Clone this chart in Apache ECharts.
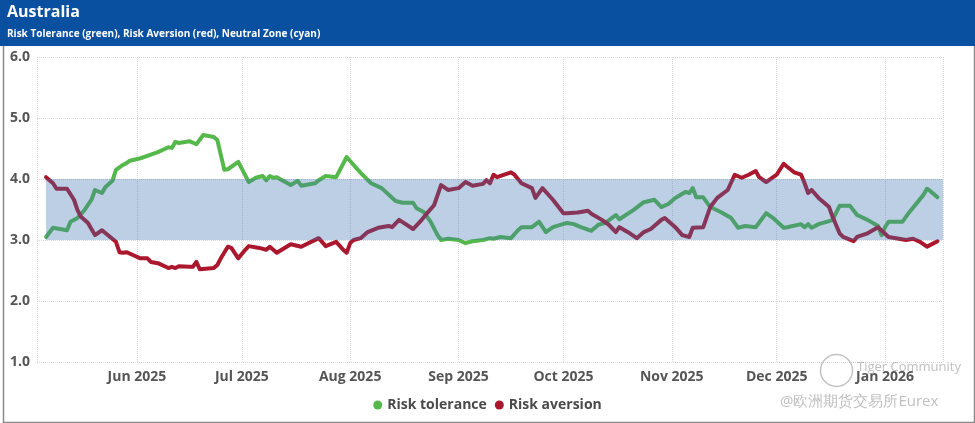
<!DOCTYPE html>
<html><head><meta charset="utf-8">
<script src="https://cdn.jsdelivr.net/npm/echarts@6/dist/echarts.min.js"></script>
<style>html,body{margin:0;padding:0;background:#fff}#c{width:975px;height:423px}</style>
</head><body><div id="c"></div>
<script>
// ---- data ----
const titleText = 'Australia';
const subtitleText = 'Risk Tolerance (green), Risk Aversion (red), Neutral Zone (cyan)';
const seriesNames = ['Risk tolerance', 'Risk aversion'];
const neutralZone = [3.0, 4.0];
const yTicks = [1, 2, 3, 4, 5, 6];
const axisStart = '2025-05-03T10:00:00';
const axisEnd = '2026-01-17T14:00:00';

const toleranceDates = ['2025-05-06','2025-05-08','2025-05-12','2025-05-13','2025-05-15','2025-05-17','2025-05-19','2025-05-20','2025-05-22','2025-05-23','2025-05-25','2025-05-26','2025-05-28','2025-05-29','2025-05-30','2025-06-02','2025-06-04','2025-06-07','2025-06-10','2025-06-11','2025-06-12','2025-06-13','2025-06-16','2025-06-18','2025-06-20','2025-06-23','2025-06-24','2025-06-26','2025-06-27','2025-06-30','2025-07-03','2025-07-05','2025-07-07','2025-07-08','2025-07-09','2025-07-10','2025-07-11','2025-07-15','2025-07-17','2025-07-18','2025-07-22','2025-07-23','2025-07-25','2025-07-28','2025-07-31','2025-08-02','2025-08-04','2025-08-07','2025-08-10','2025-08-14','2025-08-16','2025-08-19','2025-08-20','2025-08-22','2025-08-24','2025-08-26','2025-08-27','2025-08-29','2025-09-01','2025-09-03','2025-09-05','2025-09-08','2025-09-10','2025-09-11','2025-09-13','2025-09-16','2025-09-18','2025-09-19','2025-09-22','2025-09-24','2025-09-26','2025-09-28','2025-10-02','2025-10-04','2025-10-06','2025-10-09','2025-10-11','2025-10-13','2025-10-16','2025-10-17','2025-10-21','2025-10-24','2025-10-27','2025-10-29','2025-10-31','2025-11-02','2025-11-05','2025-11-06','2025-11-07','2025-11-08','2025-11-10','2025-11-12','2025-11-15','2025-11-18','2025-11-20','2025-11-22','2025-11-25','2025-11-28','2025-11-30','2025-12-03','2025-12-04','2025-12-08','2025-12-09','2025-12-10','2025-12-11','2025-12-13','2025-12-16','2025-12-17','2025-12-19','2025-12-22','2025-12-24','2025-12-27','2025-12-30','2025-12-31','2026-01-01','2026-01-02','2026-01-06','2026-01-08','2026-01-12','2026-01-13','2026-01-14','2026-01-16'];
const toleranceValues = [3.05,3.20,3.16,3.30,3.36,3.49,3.66,3.82,3.77,3.87,3.97,4.15,4.23,4.26,4.30,4.34,4.38,4.44,4.52,4.51,4.61,4.59,4.62,4.57,4.72,4.69,4.64,4.15,4.16,4.28,3.95,4.02,4.05,3.98,4.05,4.02,4.03,3.90,3.97,3.89,3.93,3.98,4.05,4.03,4.36,4.23,4.10,3.93,3.85,3.64,3.61,3.61,3.52,3.46,3.30,3.08,3.00,3.02,3.00,2.95,2.98,3.00,3.03,3.02,3.05,3.03,3.16,3.21,3.21,3.30,3.13,3.21,3.28,3.26,3.21,3.15,3.25,3.28,3.41,3.34,3.49,3.62,3.66,3.54,3.59,3.69,3.79,3.77,3.85,3.70,3.70,3.54,3.46,3.36,3.20,3.23,3.21,3.44,3.36,3.20,3.21,3.26,3.21,3.26,3.20,3.26,3.31,3.33,3.56,3.56,3.41,3.33,3.23,3.08,3.21,3.30,3.30,3.46,3.74,3.84,3.80,3.70];

const aversionDates = ['2025-05-06','2025-05-08','2025-05-09','2025-05-12','2025-05-14','2025-05-15','2025-05-16','2025-05-18','2025-05-20','2025-05-22','2025-05-26','2025-05-27','2025-05-28','2025-05-29','2025-05-31','2025-06-02','2025-06-04','2025-06-05','2025-06-07','2025-06-10','2025-06-11','2025-06-12','2025-06-13','2025-06-16','2025-06-17','2025-06-18','2025-06-19','2025-06-23','2025-06-24','2025-06-25','2025-06-27','2025-06-28','2025-06-30','2025-07-02','2025-07-03','2025-07-06','2025-07-08','2025-07-09','2025-07-11','2025-07-15','2025-07-18','2025-07-23','2025-07-25','2025-07-28','2025-07-30','2025-07-31','2025-08-01','2025-08-02','2025-08-04','2025-08-06','2025-08-09','2025-08-12','2025-08-13','2025-08-15','2025-08-19','2025-08-21','2025-08-23','2025-08-25','2025-08-27','2025-08-29','2025-09-01','2025-09-03','2025-09-05','2025-09-08','2025-09-09','2025-09-10','2025-09-11','2025-09-12','2025-09-16','2025-09-17','2025-09-19','2025-09-22','2025-09-23','2025-09-25','2025-09-28','2025-10-01','2025-10-02','2025-10-05','2025-10-06','2025-10-08','2025-10-09','2025-10-12','2025-10-14','2025-10-16','2025-10-17','2025-10-20','2025-10-22','2025-10-24','2025-10-26','2025-10-29','2025-10-30','2025-11-02','2025-11-04','2025-11-06','2025-11-07','2025-11-10','2025-11-12','2025-11-14','2025-11-17','2025-11-19','2025-11-21','2025-11-23','2025-11-25','2025-11-26','2025-11-28','2025-12-01','2025-12-03','2025-12-04','2025-12-06','2025-12-08','2025-12-09','2025-12-10','2025-12-11','2025-12-13','2025-12-16','2025-12-17','2025-12-19','2025-12-20','2025-12-23','2025-12-24','2025-12-27','2025-12-30','2026-01-02','2026-01-05','2026-01-07','2026-01-09','2026-01-11','2026-01-13','2026-01-14','2026-01-16'];
const aversionValues = [4.03,3.93,3.84,3.84,3.66,3.49,3.38,3.28,3.08,3.16,2.97,2.80,2.79,2.80,2.75,2.70,2.70,2.64,2.62,2.54,2.56,2.54,2.57,2.56,2.56,2.64,2.52,2.54,2.59,2.70,2.89,2.87,2.70,2.84,2.90,2.87,2.84,2.89,2.79,2.93,2.89,3.03,2.90,2.97,2.84,2.79,2.95,3.00,3.03,3.13,3.20,3.23,3.21,3.33,3.18,3.30,3.44,3.57,3.90,3.82,3.85,3.95,3.89,3.92,3.98,3.93,4.07,4.03,4.11,4.07,3.93,3.85,3.69,3.85,3.66,3.44,3.44,3.45,3.46,3.48,3.43,3.33,3.25,3.13,3.21,3.11,3.03,3.13,3.18,3.33,3.36,3.21,3.08,3.05,3.20,3.21,3.54,3.69,3.82,4.07,4.02,4.07,4.13,4.03,3.95,4.07,4.25,4.20,4.11,4.07,3.93,3.77,3.82,3.69,3.54,3.38,3.11,3.05,2.98,3.05,3.11,3.21,3.05,3.02,3.00,3.02,2.97,2.89,2.92,2.98];

const watermarkTop = 'Tiger Community';
const watermarkBottom = '@欧洲期货交易所Eurex';

// ---- chart ----
const FONT = '"Open Sans", "Noto Sans", sans-serif';
const pair = (d, v) => d.map((x, i) => [x, v[i]]);
const chart = echarts.init(document.getElementById('c'), null, {renderer: 'canvas'});

chart.setOption({
  animation: false,
  backgroundColor: '#ffffff',
  textStyle: {fontFamily: FONT},
  grid: {left: 37, right: 32, top: 57, bottom: 61, containLabel: false},
  legend: {
    data: seriesNames,
    bottom: 6,
    left: 'center',
    icon: 'circle',
    itemWidth: 9, itemHeight: 9, itemGap: 8,
    textStyle: {fontFamily: FONT, fontSize: 14, fontWeight: 'bold', color: '#4a4a4a'}
  },
  xAxis: {
    type: 'time',
    min: axisStart, max: axisEnd,
    minInterval: 28 * 86400000, maxInterval: 31 * 86400000,
    axisLine: {show: false}, axisTick: {show: false},
    axisLabel: {formatter: '{MMM} {yyyy}', fontFamily: FONT, fontSize: 14, fontWeight: 'bold', color: '#555', margin: 8},
    splitLine: {show: true, lineStyle: {type: 'dotted', color: '#d8d8d8', width: 1}}
  },
  yAxis: {
    type: 'value',
    min: yTicks[0], max: yTicks[yTicks.length - 1], interval: 1,
    axisLine: {show: false}, axisTick: {show: false},
    axisLabel: {formatter: v => v.toFixed(1), fontFamily: FONT, fontSize: 14, fontWeight: 'bold', color: '#555', margin: 7},
    splitLine: {show: true, lineStyle: {type: 'dotted', color: '#d8d8d8', width: 1}}
  },
  series: [
    {
      name: seriesNames[0], type: 'line', data: pair(toleranceDates, toleranceValues),
      showSymbol: false, symbol: 'circle', z: 2,
      itemStyle: {color: '#55b84a'},
      lineStyle: {color: '#55b84a', width: 4, join: 'round', cap: 'round'}
    },
    {
      name: seriesNames[1], type: 'line', data: pair(aversionDates, aversionValues),
      showSymbol: false, symbol: 'circle', z: 2,
      itemStyle: {color: '#ab172d'},
      lineStyle: {color: '#ab172d', width: 4, join: 'round', cap: 'round'}
    },
    {
      name: 'Neutral zone', type: 'line', z: 10, silent: true,
      data: [[toleranceDates[0], neutralZone[1]], [axisEnd, neutralZone[1]]],
      showSymbol: false, lineStyle: {width: 0, opacity: 0}, tooltip: {show: false},
      areaStyle: {origin: neutralZone[0], color: 'rgba(62,114,176,0.34)', opacity: 1}
    }
  ],
  graphic: [
    {type: 'rect', left: 0, top: 0, z: 100, shape: {width: 975, height: 46}, style: {fill: '#0a50a0'}},
    {type: 'text', left: 7, top: 4, z: 101, style: {text: titleText, fill: '#ffffff', font: 'bold 16px ' + FONT}},
    {type: 'text', left: 7, top: 29, z: 101, style: {text: subtitleText, fill: '#ffffff', font: 'bold 10px ' + FONT}},
    {type: 'rect', left: 1, top: 0, z: 99, shape: {x: 0, y: 0, width: 971, height: 420}, style: {fill: 'none', stroke: '#8a8a8a', lineWidth: 1.5}},
    {type: 'circle', left: 818, top: 352, z: 50, shape: {r: 16}, style: {fill: 'none', stroke: 'rgba(170,170,170,0.7)', lineWidth: 1.5}},
    {type: 'text', left: 857, top: 361, z: 50, style: {text: watermarkTop, fill: 'rgba(170,170,170,0.75)', font: '13px ' + FONT}},
    {type: 'text', left: 780, top: 394, z: 50, style: {text: watermarkBottom, fill: 'rgba(175,175,175,0.8)', font: '15px ' + FONT}}
  ]
});
</script></body></html>
